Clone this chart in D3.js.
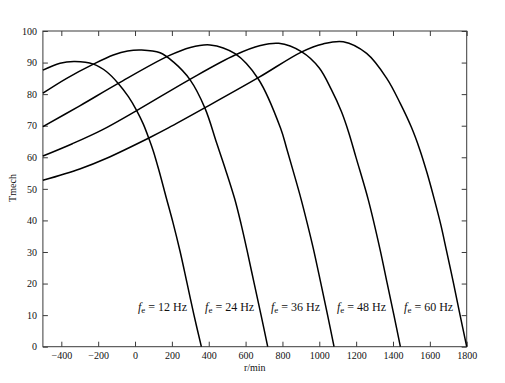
<!DOCTYPE html>
<html>
<head>
<meta charset="utf-8">
<script src="https://d3js.org/d3.v7.min.js"></script>
<style>
  body { margin: 0; background: #fff; }
  text { font-family: "Liberation Serif", "DejaVu Serif", serif; fill: #111; }
</style>
</head>
<body>
<div id="chart"></div>
<script>
// frequencies of the family of curves (Hz)
const frequencies = [12, 24, 36, 48, 60];

// torque readings [r/min, Tmech] for each curve
const curve12 = [[-500, 87.6], [-407, 89.8], [-326, 90.3], [-226, 89.5], [-154, 87.1], [-91, 83.4],
  [-36, 79.2], [9, 74.8], [45, 70.5], [78, 65.5], [99, 62.0], [130, 55.8], [168, 47.5],
  [206, 39.3], [244, 30.3], [282, 20.2], [320, 10.0], [360, 0]];
const curve24 = [[-500, 80.3], [-371, 85.0], [-226, 89.5], [-118, 92.4], [-40, 93.7], [36, 94.0],
  [136, 93.1], [208, 90.2], [298, 84.6], [380, 75.5], [443, 64.5], [490, 56.3], [540, 47.0],
  [575, 39.0], [608, 30.5], [646, 20.2], [684, 10.0], [720, 0]];
const curve36 = [[-500, 69.7], [-300, 76.3], [-91, 83.4], [181, 92.1], [300, 94.8], [407, 95.6],
  [543, 92.8], [669, 84.8], [790, 69.2], [823, 62.8], [860, 55.3], [900, 47.0], [935, 39.0],
  [968, 31.0], [1008, 20.2], [1045, 10.0], [1080, 0]];
const curve48 = [[-500, 60.4], [-340, 64.3], [-181, 68.6], [9, 74.8], [298, 84.7], [543, 92.4],
  [680, 95.4], [780, 96.1], [905, 93.4], [1000, 88.3], [1065, 81.5], [1120, 74.5],
  [1160, 67.8], [1200, 59.8], [1266, 46.5], [1329, 31.0], [1368, 20.2], [1405, 10.0], [1440, 0]];
const curve60 = [[-500, 52.7], [-300, 56.3], [-154, 59.7], [78, 66.2], [181, 69.3], [380, 75.7],
  [669, 85.2], [905, 93.4], [1020, 95.9], [1130, 96.6], [1257, 92.9], [1366, 85.0],
  [1440, 77.0], [1500, 69.5], [1545, 62.5], [1585, 55.0], [1625, 46.5], [1660, 38.5],
  [1690, 30.5], [1728, 20.2], [1764, 10.0], [1800, 0]];
const curves = [curve12, curve24, curve36, curve48, curve60];

// label position (r/min at left edge of each label)
const labelStarts = [16, 380, 738, 1096, 1460];

const xTicks = [-400, -200, 0, 200, 400, 600, 800, 1000, 1200, 1400, 1600, 1800];
const yTicks = [0, 10, 20, 30, 40, 50, 60, 70, 80, 90, 100];

const width = 505, height = 383;
const margin = { top: 31, right: 38.3, bottom: 36.3, left: 42.9 };

const svg = d3.select("#chart").append("svg")
  .attr("width", width)
  .attr("height", height);

const x = d3.scaleLinear().domain([-500, 1800]).range([margin.left, width - margin.right]);
const y = d3.scaleLinear().domain([0, 100]).range([height - margin.bottom, margin.top]);

// frame
svg.append("rect")
  .attr("x", x(-500)).attr("y", y(100))
  .attr("width", x(1800) - x(-500)).attr("height", y(0) - y(100))
  .attr("fill", "none").attr("stroke", "#3a3a3a").attr("stroke-width", 1);

// axes, ticks pointing inward on all four sides
const tickLen = 5;
const fmt = d3.format("d");
const axBottom = svg.append("g").attr("transform", `translate(0,${y(0)})`)
  .call(d3.axisBottom(x).tickValues(xTicks).tickFormat(fmt).tickSizeInner(-tickLen).tickSizeOuter(0).tickPadding(5));
const axTop = svg.append("g").attr("transform", `translate(0,${y(100)})`)
  .call(d3.axisTop(x).tickValues(xTicks).tickSizeInner(-tickLen).tickSizeOuter(0).tickFormat(""));
const axLeft = svg.append("g").attr("transform", `translate(${x(-500)},0)`)
  .call(d3.axisLeft(y).tickValues(yTicks).tickFormat(fmt).tickSizeInner(-tickLen).tickSizeOuter(0).tickPadding(6));
const axRight = svg.append("g").attr("transform", `translate(${x(1800)},0)`)
  .call(d3.axisRight(y).tickValues(yTicks).tickSizeInner(-tickLen).tickSizeOuter(0).tickFormat(""));

[axBottom, axTop, axLeft, axRight].forEach(g => {
  g.select(".domain").remove();
  g.selectAll(".tick line").attr("stroke", "#3a3a3a");
  g.selectAll(".tick text")
    .style("font-family", '"Liberation Serif", serif')
    .style("font-size", "10px")
    .attr("fill", "#111");
});

// curves
const line = d3.line()
  .x(d => x(d[0]))
  .y(d => y(d[1]))
  .curve(d3.curveCatmullRom.alpha(0.5));

svg.append("g").selectAll("path")
  .data(curves)
  .join("path")
  .attr("d", line)
  .attr("fill", "none")
  .attr("stroke", "#000")
  .attr("stroke-width", 1.5);

// curve labels
const labels = svg.append("g").selectAll("text")
  .data(frequencies)
  .join("text")
  .attr("x", (d, i) => x(labelStarts[i]))
  .attr("y", 310.5)
  .style("font-size", "12px");
labels.append("tspan").attr("font-style", "italic").text("f");
labels.append("tspan").attr("font-size", "9px").attr("dy", 2).text("e");
labels.append("tspan").attr("dy", -2).text(d => ` = ${d} Hz`);

// axis titles
svg.append("text")
  .attr("x", (x(-500) + x(1800)) / 2)
  .attr("y", 370.5)
  .attr("text-anchor", "middle")
  .style("font-size", "10px")
  .text("r/min");

svg.append("text")
  .attr("transform", "translate(15.5,188) rotate(-90)")
  .attr("text-anchor", "middle")
  .style("font-size", "10px")
  .text("Tmech");
</script>
</body>
</html>
